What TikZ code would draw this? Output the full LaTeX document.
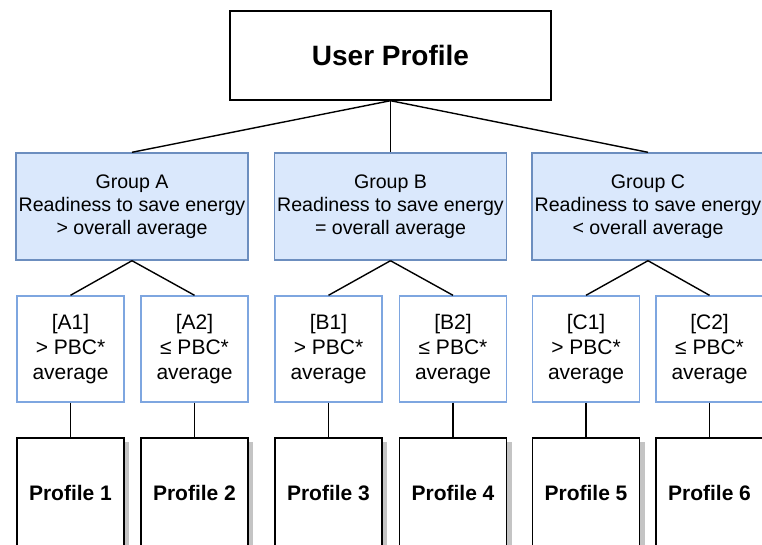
\documentclass[tikz,border=0pt]{standalone}
\usepackage{fontspec}
\setmainfont{Liberation Sans}
\usetikzlibrary{backgrounds}
\definecolor{grpfill}{HTML}{DAE8FC}
\definecolor{grpline}{HTML}{6C8EBF}
\definecolor{subline}{HTML}{7EA6E0}
\definecolor{shadowcol}{HTML}{C4C4C4}
\tikzset{
  topbox/.style={draw=black, line width=1.4pt, fill=white, minimum width=321pt, minimum height=89pt, inner sep=0pt,
    font=\fontsize{28}{33}\selectfont\bfseries},
  grpbox/.style={draw=grpline, line width=1.4pt, fill=grpfill, minimum width=232pt, minimum height=107pt, inner sep=0pt,
    align=center, font=\fontsize{19.6}{23.2}\selectfont},
  subbox/.style={draw=subline, line width=1.4pt, fill=white, minimum width=107pt, minimum height=106pt, inner sep=0pt,
    align=center, font=\fontsize{21}{24.6}\selectfont},
  profbox/.style={draw=black, line width=1.4pt, fill=white, minimum width=107pt, minimum height=110pt, inner sep=0pt,
    font=\fontsize{21}{25}\selectfont\bfseries},
  profshadow/.style={fill=shadowcol},
  link/.style={draw=black, line width=1.4pt}
}
\begin{document}
\begin{tikzpicture}[x=1pt,y=-1pt]
\useasboundingbox (0,0) rectangle (762,544);
\clip (0,0) rectangle (762,544);
\node[topbox] (up) at (390.5,55.5) {User Profile};
\node[grpbox] (ga) at (132,206.5) {Group A\\Readiness to save energy\\> overall average};
\node[grpbox] (gb) at (390.5,206.5) {Group B\\Readiness to save energy\\= overall average};
\node[grpbox] (gc) at (648,206.5) {Group C\\Readiness to save energy\\< overall average};
\node[subbox] (a1) at (70.5,349) {[A1]\\> PBC*\\average};
\node[subbox] (a2) at (194.5,349) {[A2]\\≤ PBC*\\average};
\node[subbox] (b1) at (328.5,349) {[B1]\\> PBC*\\average};
\node[subbox] (b2) at (453,349) {[B2]\\≤ PBC*\\average};
\node[subbox] (c1) at (586,349) {[C1]\\> PBC*\\average};
\node[subbox] (c2) at (709.5,349) {[C2]\\≤ PBC*\\average};
\node[profbox] (p1) at (70.5,493) {Profile 1};
\node[profbox] (p2) at (194.5,493) {Profile 2};
\node[profbox] (p3) at (328.5,493) {Profile 3};
\node[profbox] (p4) at (453,493) {Profile 4};
\node[profbox] (p5) at (586,493) {Profile 5};
\node[profbox] (p6) at (709.5,493) {Profile 6};
\begin{scope}[on background layer]
\foreach \p in {p1,p2,p3,p4,p5,p6}{
  \fill[profshadow] ([xshift=4.5pt,yshift=-5pt]\p.north west) rectangle ([xshift=4.5pt,yshift=-5pt]\p.south east);
}
\end{scope}
\draw[link] (up.south) -- (ga.north);
\draw[link] (up.south) -- (gb.north);
\draw[link] (up.south) -- (gc.north);
\draw[link] (ga.south) -- (a1.north);
\draw[link] (ga.south) -- (a2.north);
\draw[link] (gb.south) -- (b1.north);
\draw[link] (gb.south) -- (b2.north);
\draw[link] (gc.south) -- (c1.north);
\draw[link] (gc.south) -- (c2.north);
\draw[link] (a1.south) -- (p1.north);
\draw[link] (a2.south) -- (p2.north);
\draw[link] (b1.south) -- (p3.north);
\draw[link] (b2.south) -- (p4.north);
\draw[link] (c1.south) -- (p5.north);
\draw[link] (c2.south) -- (p6.north);
\end{tikzpicture}
\end{document}
